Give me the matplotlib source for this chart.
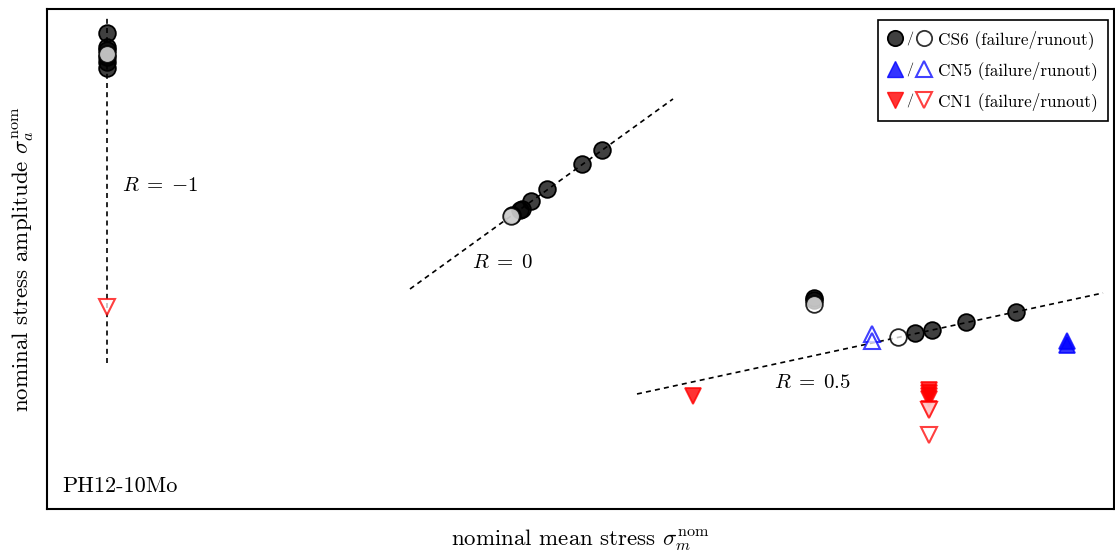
import matplotlib
matplotlib.use("Agg")
import matplotlib.pyplot as plt
from matplotlib.lines import Line2D
from matplotlib.legend_handler import HandlerTuple

plt.rcParams['font.family'] = 'serif'
plt.rcParams['font.serif'] = ['cmr10', 'DejaVu Serif']
plt.rcParams['mathtext.fontset'] = 'cm'
plt.rcParams['axes.unicode_minus'] = False

# nominal mean stress / amplitude (MPa)
cs6_fail_m = [0, 0, 0, 0, 0, 0, 495, 475, 440, 424, 415, 413, 405, 707, 707, 808, 825, 859, 909]
cs6_fail_a = [659.3, 639.9, 635.7, 626.0, 619.1, 610.8, 497.2, 477.8, 443.2, 426.6, 415.5, 414.1, 407.5,
              292.2, 289.5, 243.8, 247.9, 259.0, 272.9]
cs6_run_m = [0, 404, 707, 791]
cs6_run_a = [630.2, 405.8, 283.9, 238.2]

cn5_fail_m = [960, 960]
cn5_fail_a = [232.7, 227.1]
cn5_run_m = [765, 765]
cn5_run_a = [242.4, 232.7]

cn1_fail_m = [586, 822, 822, 822, 822, 822]
cn1_fail_a = [156.5, 164.8, 160.7, 156.5, 152.4, 139.0]
cn1_run_m = [0, 822, 822]
cn1_run_a = [279.8, 137.1, 102.5]

# constant R reference lines: (mean, amplitude) end points
r_m1_m = [0, 0]
r_m1_a = [202, 681]
r_0_m = [303, 566]
r_0_a = [304.7, 567.9]
r_05_m = [530, 996]
r_05_a = [159.3, 299.2]

fig = plt.figure(figsize=(11.15, 5.55), dpi=100)
ax = fig.add_axes([47/1115, 46/555, 1067/1115, 500/555])

dash = dict(color='k', lw=1.2, dashes=(3, 2.5))
ax.plot(r_m1_m, r_m1_a, **dash)
ax.plot(r_0_m, r_0_a, **dash)
ax.plot(r_05_m, r_05_a, **dash)

ms = 12
ax.plot(cs6_fail_m, cs6_fail_a, 'o', ms=ms, mfc=(0, 0, 0, 0.75), mec='k', mew=1.3, ls='none')
ax.plot(cs6_run_m, cs6_run_a, 'o', ms=ms, mfc=(1, 1, 1, 0.75), mec=(0, 0, 0, 0.85), mew=1.3, ls='none')

ax.plot(cn5_fail_m, cn5_fail_a, '^', ms=11, mfc=(0, 0, 1, 0.8), mec=(0, 0, 1, 0.8), mew=1.3, ls='none')
ax.plot(cn5_run_m, cn5_run_a, '^', ms=11, mfc=(1, 1, 1, 0.75), mec=(0, 0, 1, 0.75), mew=1.5, ls='none')

ax.plot(cn1_fail_m, cn1_fail_a, 'v', ms=11, mfc=(1, 0, 0, 0.8), mec=(1, 0, 0, 0.8), mew=1.3, ls='none')
ax.plot(cn1_run_m, cn1_run_a, 'v', ms=11, mfc=(1, 1, 1, 0.75), mec=(1, 0, 0, 0.75), mew=1.5, ls='none')

ax.text(15, 447, r'$R\;=\;{-1}$', fontsize=15, va='center', ha='left')
ax.text(365, 341, r'$R\;=\;0$', fontsize=15, va='center', ha='left')
ax.text(667, 175, r'$R\;=\;0.5$', fontsize=15, va='center', ha='left')
ax.text(0.014, 0.046, 'PH12-10Mo', fontsize=16, transform=ax.transAxes, va='center', ha='left')

ax.set_xlim(-60, 1007)
ax.set_ylim(0, 692.5)
ax.set_xticks([])
ax.set_yticks([])
for s in ax.spines.values():
    s.set_linewidth(1.5)
ax.set_xlabel(r'nominal mean stress $\sigma_m^{\rm nom}$', fontsize=16.5, labelpad=13)
ax.set_ylabel(r'nominal stress amplitude $\sigma_a^{\rm nom}$', fontsize=16.5, labelpad=8)

slash = Line2D([], [], marker=r'$/$', color='k', ls='none', ms=10, mew=0)
h_cs6 = (Line2D([], [], marker='o', ms=11, mfc=(0, 0, 0, 0.75), mec='k', mew=1.3, ls='none'), slash,
         Line2D([], [], marker='o', ms=11, mfc='w', mec=(0, 0, 0, 0.8), mew=1.3, ls='none'))
h_cn5 = (Line2D([], [], marker='^', ms=11, mfc=(0, 0, 1, 0.8), mec=(0, 0, 1, 0.8), ls='none'), slash,
         Line2D([], [], marker='^', ms=11, mfc='w', mec=(0, 0, 1, 0.75), mew=1.5, ls='none'))
h_cn1 = (Line2D([], [], marker='v', ms=11, mfc=(1, 0, 0, 0.8), mec=(1, 0, 0, 0.8), ls='none'), slash,
         Line2D([], [], marker='v', ms=11, mfc='w', mec=(1, 0, 0, 0.75), mew=1.5, ls='none'))
leg = ax.legend([h_cs6, h_cn5, h_cn1],
                ['CS6 (failure/runout)', 'CN5 (failure/runout)', 'CN1 (failure/runout)'],
                handler_map={tuple: HandlerTuple(ndivide=None, pad=0)},
                loc='upper right', bbox_to_anchor=(1108/1115, 1 - 20/555),
                bbox_transform=fig.transFigure, borderaxespad=0,
                fontsize=12.4, fancybox=False, framealpha=1, edgecolor='k',
                handlelength=2.5, handletextpad=0.4, borderpad=0.6, labelspacing=0.7)
leg.get_frame().set_linewidth(1.2)

fig.savefig('out.png', dpi=100)
